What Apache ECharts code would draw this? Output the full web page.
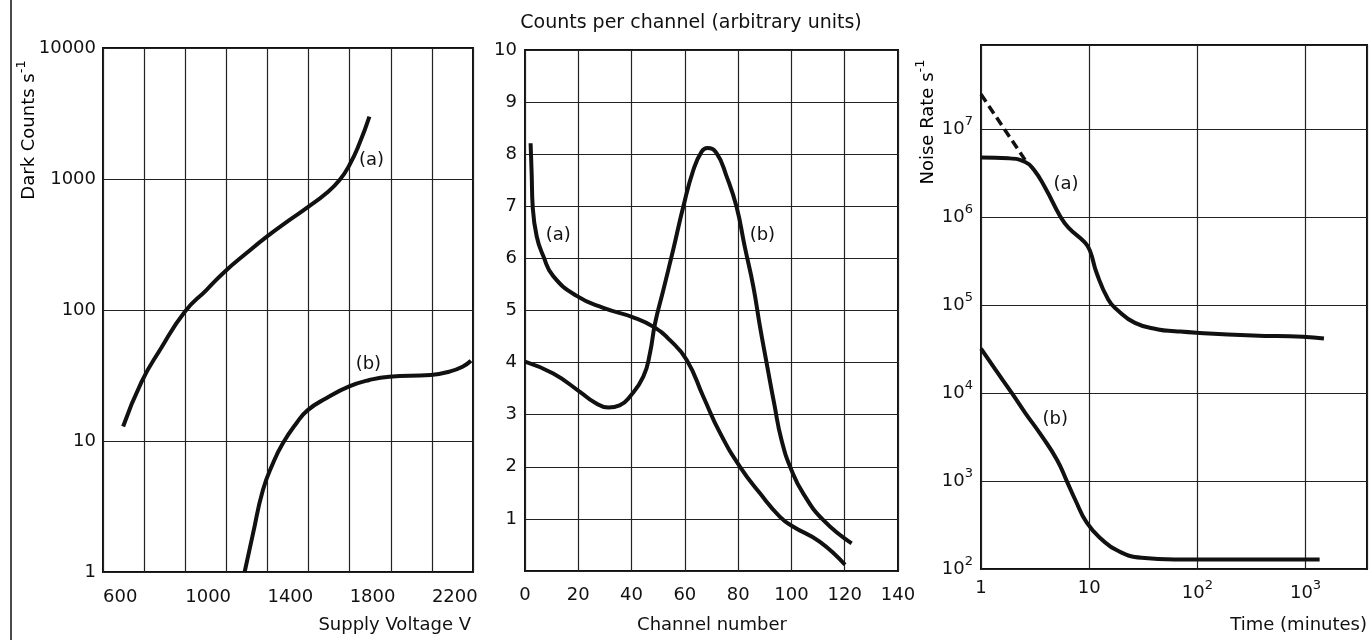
<!DOCTYPE html>
<html>
<head>
<meta charset="utf-8">
<script src="https://cdn.jsdelivr.net/npm/echarts@6/dist/echarts.min.js"></script>
<style>
  html, body { margin: 0; padding: 0; background: #fff; }
  #chart { width: 1370px; height: 640px; }
</style>
</head>
<body>
<div id="chart"></div>
<script>
// left: dark counts vs supply voltage
const voltA = [698, 788, 877, 998, 1103, 1192, 1297, 1397, 1508, 1600, 1686, 1751, 1799, 1848, 1896];
const darkA = [12.9, 28.4, 49.5, 97, 142, 196, 271, 363, 487, 615, 778, 983, 1280, 1872, 2990];
const voltB = [1289, 1330, 1378, 1427, 1475, 1540, 1596, 1686, 1795, 1896, 1993, 2194, 2284, 2349, 2390];
const darkB = [1, 1.97, 4.23, 6.76, 9.6, 13.6, 17.2, 21.2, 26, 29.2, 31, 31.9, 33.8, 36.9, 41];

// middle: pulse height spectra
const chanA = [2.1, 2.5, 2.9, 4.4, 6.9, 10.6, 19.4, 29.4, 40.6, 48.1, 54.4, 60.7, 66.9, 73.2, 80.7, 88.2, 95.7, 100.7, 110.7, 120.1];
const countA = [8.21, 7.63, 6.99, 6.42, 6.04, 5.66, 5.28, 5.05, 4.87, 4.69, 4.43, 4.05, 3.35, 2.65, 2.0, 1.49, 1.04, 0.85, 0.56, 0.12];
const chanB = [0, 10.6, 20.6, 26, 31.3, 35.5, 39.4, 44.4, 46.9, 48.8, 51.9, 55.6, 59.4, 63.2, 66.3, 68.4, 71.9, 75.7, 79.4, 82.5, 85.7, 88.2, 90.7, 93.5, 96.3, 100, 104.4, 111.9, 122.6];
const countB = [4.02, 3.79, 3.44, 3.24, 3.14, 3.18, 3.35, 3.73, 4.18, 4.75, 5.39, 6.16, 6.99, 7.70, 8.05, 8.12, 8.02, 7.57, 6.99, 6.22, 5.46, 4.69, 3.99, 3.22, 2.51, 1.94, 1.49, 0.98, 0.53];

// right: noise rate vs time after exposure
const timeA = [1, 1.8, 2.56, 3.06, 3.92, 5.39, 6.43, 9.16, 10.2, 11.7, 15.0, 18.0, 26.5, 43.5, 62, 98, 326, 946, 1480];
const rateA = [4.77e6, 4.68e6, 4.25e6, 3.51e6, 2.17e6, 1.03e6, 7.62e5, 5.14e5, 4.12e5, 2.34e5, 1.16e5, 8.96e4, 6.3e4, 5.3e4, 5.07e4, 4.86e4, 4.53e4, 4.37e4, 4.17e4];
const timeExtrap = [1, 2.66];
const rateExtrap = [2.5e7, 4.18e6];
const timeB = [1, 1.355, 1.93, 2.56, 3.65, 5.02, 6.21, 7.41, 9.5, 13.1, 18.6, 30.5, 61.9, 1350];
const rateB = [3.2e4, 1.86e4, 1.0e4, 5.98e3, 3.24e3, 1.76e3, 1.0e3, 617, 336, 217, 160, 134, 128, 128];

// curve tags (a)/(b): [text, x, y] per panel
const tags1 = [['(a)', 1906, 1396], ['(b)', 1891, 38.7]];
const tags2 = [['(a)', 12.5, 6.45], ['(b)', 89.1, 6.45]];
const tags3 = [['(a)', 6.1, 2.37e6], ['(b)', 4.85, 5.0e3]];

const FONT = 'DejaVu Sans';
const INK = '#111';

const pairs = (xs, ys) => xs.map((x, i) => [x, ys[i]]);

function powLabel(v) {
  const lg = Math.log10(v);
  const e = Math.round(lg);
  if (Math.abs(lg - e) > 1e-6) return '';
  if (e === 0) return '1';
  if (e === 1) return '10';
  return '{b|10}{s|' + e + '}';
}

// b sits in the middle of a tall line, s hugs its top -> superscript
const supRich = {
  b: { fontFamily: FONT, fontSize: 18, color: INK, lineHeight: 28, verticalAlign: 'middle' },
  s: { fontFamily: FONT, fontSize: 13, color: INK, lineHeight: 14, verticalAlign: 'top' }
};

const splitLine = { show: true, lineStyle: { color: '#222', width: 1.2 } };
const baseAxis = {
  axisLine: { show: false },
  axisTick: { show: false },
  splitLine: splitLine
};
const labelStyle = { fontFamily: FONT, fontSize: 18, color: INK };

function curve(xi, xs, ys, dashed) {
  return {
    type: 'line',
    xAxisIndex: xi,
    yAxisIndex: xi,
    data: pairs(xs, ys),
    showSymbol: false,
    smooth: dashed ? false : 0.5,
    lineStyle: { color: INK, width: dashed ? 3.5 : 4, type: dashed ? [9, 5] : 'solid' },
    silent: true,
    z: 3
  };
}

function tagSeries(xi, tags) {
  return {
    type: 'scatter',
    xAxisIndex: xi,
    yAxisIndex: xi,
    symbolSize: 0,
    silent: true,
    itemStyle: { color: INK, opacity: 1 },
    data: tags.map(t => ({ name: t[0], value: [t[1], t[2]] })),
    label: {
      show: true,
      position: 'inside',
      formatter: p => p.name,
      fontFamily: FONT,
      fontSize: 18,
      color: INK,
      opacity: 1
    }
  };
}

const gridBox = { show: true, borderColor: INK, borderWidth: 2, backgroundColor: '#fff' };

const option = {
  animation: false,
  backgroundColor: '#fff',
  grid: [
    Object.assign({ left: 103, top: 48, width: 370, height: 524 }, gridBox),
    Object.assign({ left: 525, top: 50, width: 373, height: 521 }, gridBox),
    Object.assign({ left: 981, top: 45, width: 387, height: 524 }, gridBox)
  ],
  xAxis: [
    Object.assign({}, baseAxis, {
      gridIndex: 0, type: 'value', min: 600, max: 2400, interval: 200,
      axisLabel: Object.assign({}, labelStyle, {
        margin: 16, align: 'left',
        formatter: v => ((v - 600) % 400 === 0 && v < 2400) ? String(v) : ''
      })
    }),
    Object.assign({}, baseAxis, {
      gridIndex: 1, type: 'value', min: 0, max: 140, interval: 20,
      axisLabel: Object.assign({}, labelStyle, { margin: 15 })
    }),
    Object.assign({}, baseAxis, {
      gridIndex: 2, type: 'log', logBase: 10, min: 1, max: 3700,
      axisLabel: Object.assign({}, labelStyle, { margin: 10, formatter: powLabel, rich: supRich })
    })
  ],
  yAxis: [
    Object.assign({}, baseAxis, {
      gridIndex: 0, type: 'log', logBase: 10, min: 1, max: 10000,
      axisLabel: Object.assign({}, labelStyle, { margin: 7, formatter: v => String(Math.round(v)) })
    }),
    Object.assign({}, baseAxis, {
      gridIndex: 1, type: 'value', min: 0, max: 10, interval: 1,
      axisLabel: Object.assign({}, labelStyle, { margin: 8, formatter: v => v === 0 ? '' : String(v) })
    }),
    Object.assign({}, baseAxis, {
      gridIndex: 2, type: 'log', logBase: 10, min: 100, max: 9.1e7,
      axisLabel: Object.assign({}, labelStyle, { margin: 8, formatter: powLabel, rich: supRich })
    })
  ],
  graphic: [
    { type: 'line', silent: true, shape: { x1: 11, y1: 0, x2: 11, y2: 640 }, style: { stroke: INK, lineWidth: 1.5 } },
    {
      type: 'text', x: 29, y: 130, rotation: Math.PI / 2, silent: true,
      style: { text: '{b|Dark Counts s}{s|-1}', rich: supRich, align: 'center', verticalAlign: 'middle' }
    },
    {
      type: 'text', x: 691, y: 23, silent: true,
      style: { text: 'Counts per channel (arbitrary units)', font: '19px "DejaVu Sans"', fill: INK, align: 'center', verticalAlign: 'middle' }
    },
    {
      type: 'text', x: 471, y: 625, silent: true,
      style: { text: 'Supply Voltage V', font: '18px "DejaVu Sans"', fill: INK, align: 'right', verticalAlign: 'middle' }
    },
    {
      type: 'text', x: 712, y: 625, silent: true,
      style: { text: 'Channel number', font: '18px "DejaVu Sans"', fill: INK, align: 'center', verticalAlign: 'middle' }
    },
    {
      type: 'text', x: 928, y: 122, rotation: Math.PI / 2, silent: true,
      style: { text: '{b|Noise Rate s}{s|-1}', rich: supRich, align: 'center', verticalAlign: 'middle' }
    },
    {
      type: 'text', x: 1367, y: 625, silent: true,
      style: { text: 'Time (minutes)', font: '18px "DejaVu Sans"', fill: INK, align: 'right', verticalAlign: 'middle' }
    }
  ],
  series: [
    curve(0, voltA, darkA),
    curve(0, voltB, darkB),
    curve(1, chanA, countA),
    curve(1, chanB, countB),
    curve(2, timeA, rateA),
    curve(2, timeExtrap, rateExtrap, true),
    curve(2, timeB, rateB),
    tagSeries(0, tags1),
    tagSeries(1, tags2),
    tagSeries(2, tags3)
  ]
};

const chart = echarts.init(document.getElementById('chart'));
chart.setOption(option);
</script>
</body>
</html>
